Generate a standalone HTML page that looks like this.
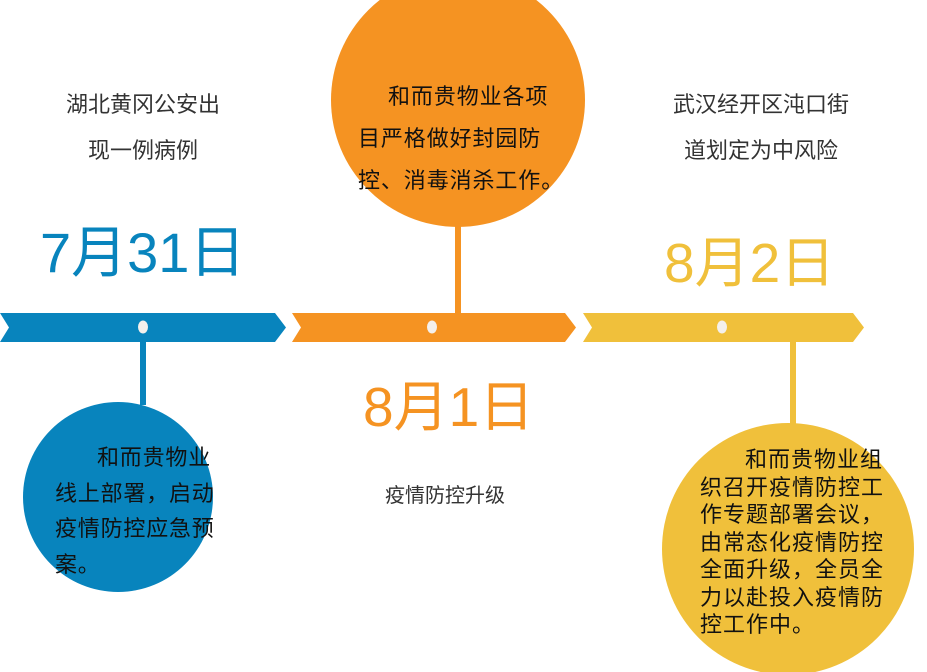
<!DOCTYPE html>
<html><head><meta charset="utf-8"><style>
body{margin:0;width:927px;height:672px;overflow:hidden;background:#fff;position:relative;font-family:"Liberation Sans","Noto Sans CJK SC",sans-serif}
.t{position:absolute;white-space:nowrap}
.p{position:absolute;white-space:normal}
</style></head><body>
<svg width="927" height="672" style="position:absolute;left:0;top:0">
<circle cx="458" cy="100" r="127" fill="#f59322"/>
<circle cx="118" cy="497" r="95" fill="#0884bd"/>
<circle cx="788" cy="549" r="126" fill="#f0c03b"/>
<rect x="455" y="220" width="6" height="95" fill="#f59322"/>
<rect x="140" y="340" width="6" height="65" fill="#0884bd"/>
<rect x="790" y="340" width="6" height="88" fill="#f0c03b"/>
<polygon points="0,313 275,313 286,327.5 275,342 0,342 9,327.5" fill="#0884bd"/>
<polygon points="292,313 565,313 576,327.5 565,342 292,342 301,327.5" fill="#f59322"/>
<polygon points="583,313 853,313 864,327.5 853,342 583,342 592,327.5" fill="#f0c03b"/>
<ellipse cx="143" cy="327" rx="5" ry="6.5" fill="#f4f0ec"/>
<ellipse cx="432" cy="327" rx="5" ry="6.5" fill="#f4f0ec"/>
<ellipse cx="722" cy="327" rx="5" ry="6.5" fill="#f4f0ec"/>
</svg>
<div class="t" style="left:63px;top:82px;font-size:22px;color:#333;line-height:46px;text-align:center;width:160px">湖北黄冈公安出<br>现一例病例</div>
<div class="t" style="left:40px;top:218px;font-size:56px;color:#0884bd;line-height:70px">7月31日</div>
<div class="t" style="left:358px;top:76px;font-size:22px;letter-spacing:0.9px;color:#111;line-height:42px"><span style="padding-left:30px"></span>和而贵物业各项<br>目严格做好封园防<br>控、消毒消杀工作。</div>
<div class="t" style="left:363px;top:372px;font-size:55px;color:#f59322;line-height:70px">8月1日</div>
<div class="t" style="left:385px;top:482px;font-size:20px;color:#333;line-height:28px">疫情防控升级</div>
<div class="t" style="left:668px;top:82px;font-size:22px;color:#333;line-height:46px;text-align:center;width:186px">武汉经开区沌口街<br>道划定为中风险</div>
<div class="t" style="left:664px;top:228px;font-size:55px;color:#f0c03b;line-height:70px">8月2日</div>
<div class="t" style="left:55px;top:440px;font-size:22px;letter-spacing:0.8px;color:#111;line-height:35.5px"><span style="padding-left:42px"></span>和而贵物业<br>线上部署，启动<br>疫情防控应急预<br>案。</div>
<div class="t" style="left:700px;top:446px;font-size:22px;letter-spacing:1px;color:#111;line-height:27.5px"><span style="padding-left:45px"></span>和而贵物业组<br>织召开疫情防控工<br>作专题部署会议，<br>由常态化疫情防控<br>全面升级，全员全<br>力以赴投入疫情防<br>控工作中。</div>
</body></html>
